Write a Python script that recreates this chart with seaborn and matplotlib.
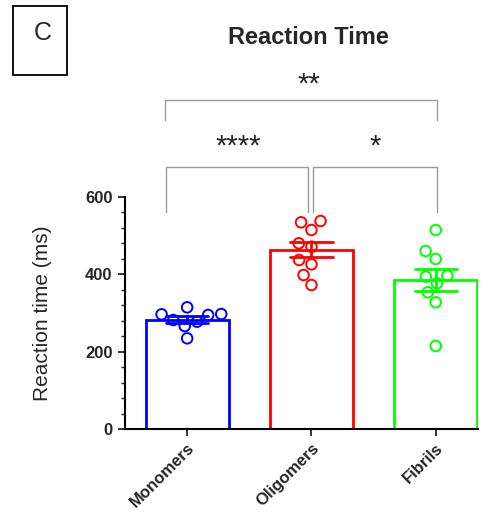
import numpy as np
import pandas as pd
import matplotlib
matplotlib.use("Agg")
import matplotlib.pyplot as plt
import seaborn as sns
from matplotlib.ticker import AutoMinorLocator
from matplotlib.patches import Rectangle

# ---- data ----
categories = ["Monomers", "Oligomers", "Fibrils"]
monomers = [296.6, 294.8, 314.6, 277.6, 266.4, 234.7, 281.9, 297.4]
oligomers = [533.9, 537.3, 514.1, 479.8, 471.0, 436.7, 425.6, 398.0, 372.2]
fibrils = [514.0, 459.9, 439.3, 396.2, 393.6, 376.6, 353.4, 327.6, 214.9]
colors = ["#0000FF", "#FF0000", "#00FF00"]
y_ticks = [0, 200, 400, 600]
title = "Reaction Time"
ylabel = "Reaction time (ms)"
# significance brackets: (x_left, x_right, y_leg_bottom, y_top, label, label_x, label_baseline)
brackets = [
    (-0.167, 0.97, 560, 677, "****", 0.41, 708),
    (1.015, 2.007, 560, 677, "*", 1.51, 708),
    (-0.175, 2.007, 798, 849, "**", 0.976, 869),
]

df = pd.DataFrame({
    "group": (["Monomers"] * len(monomers) + ["Oligomers"] * len(oligomers)
              + ["Fibrils"] * len(fibrils)),
    "value": monomers + oligomers + fibrils,
})

sns.set_style("ticks")
plt.rcParams["font.family"] = ["Liberation Sans", "DejaVu Sans"]

fig = plt.figure(figsize=(4.91, 5.12), dpi=100)
ax = fig.add_axes([0.2546, 0.1615, 0.7189, 0.4543])

palette = dict(zip(categories, colors))

sns.swarmplot(data=df, x="group", y="value", hue="group", order=categories,
              hue_order=categories, palette=palette, size=7.6, legend=False,
              ax=ax, zorder=1)
for coll in ax.collections:
    fc = coll.get_facecolor()
    coll.set_edgecolor(fc)
    coll.set_facecolor("none")
    coll.set_linewidth(1.4)

sns.barplot(data=df, x="group", y="value", hue="group", order=categories,
            hue_order=categories, palette=palette, errorbar="se", fill=False,
            width=0.67, capsize=0.34, linewidth=2.0, legend=False,
            err_kws={"linewidth": 2.0}, ax=ax)

ax.set_xlim(-0.5, 2.34)
ax.set_ylim(0, 600)
ax.set_yticks(y_ticks)
ax.yaxis.set_minor_locator(AutoMinorLocator(5))
for s in ["top", "right"]:
    ax.spines[s].set_visible(False)
for s in ["left", "bottom"]:
    ax.spines[s].set_linewidth(1.5)
    ax.spines[s].set_color("black")
ax.tick_params(axis="y", which="major", length=5, width=1.3, labelsize=12, pad=4)
ax.tick_params(axis="y", which="minor", length=3, width=1.0)
ax.tick_params(axis="x", which="major", length=5, width=1.3, labelsize=12, pad=3)
for lab in ax.get_yticklabels():
    lab.set_fontweight("bold")
ax.set_xticks(range(len(categories)))
ax.set_xticklabels(categories, rotation=45, ha="right", rotation_mode="anchor",
                   fontweight="bold")
ax.set_xlabel("")
ax.set_ylabel(ylabel, fontsize=15, labelpad=24)

# brackets
for xl, xr, yb, yt, lab, lx, ly in brackets:
    ax.plot([xl, xl, xr, xr], [yb, yt, yt, yb], color="#9a9a9a", lw=1.0,
            clip_on=False)
    ax.text(lx, ly, lab, ha="center", va="baseline", fontsize=21,
            color="#222222")

fig.text(308 / 491, 1 - 37 / 512, title, ha="center", va="center",
         fontsize=17, fontweight="bold")

# panel label
fig.patches.append(Rectangle((13.3 / 491, 1 - 75 / 512), 53.4 / 491, 69.3 / 512,
                             transform=fig.transFigure, fill=False,
                             edgecolor="black", linewidth=1.3))
fig.text(43 / 491, 1 - 33 / 512, "C", ha="center", va="center", fontsize=18)

fig.savefig("out.png", dpi=100)
